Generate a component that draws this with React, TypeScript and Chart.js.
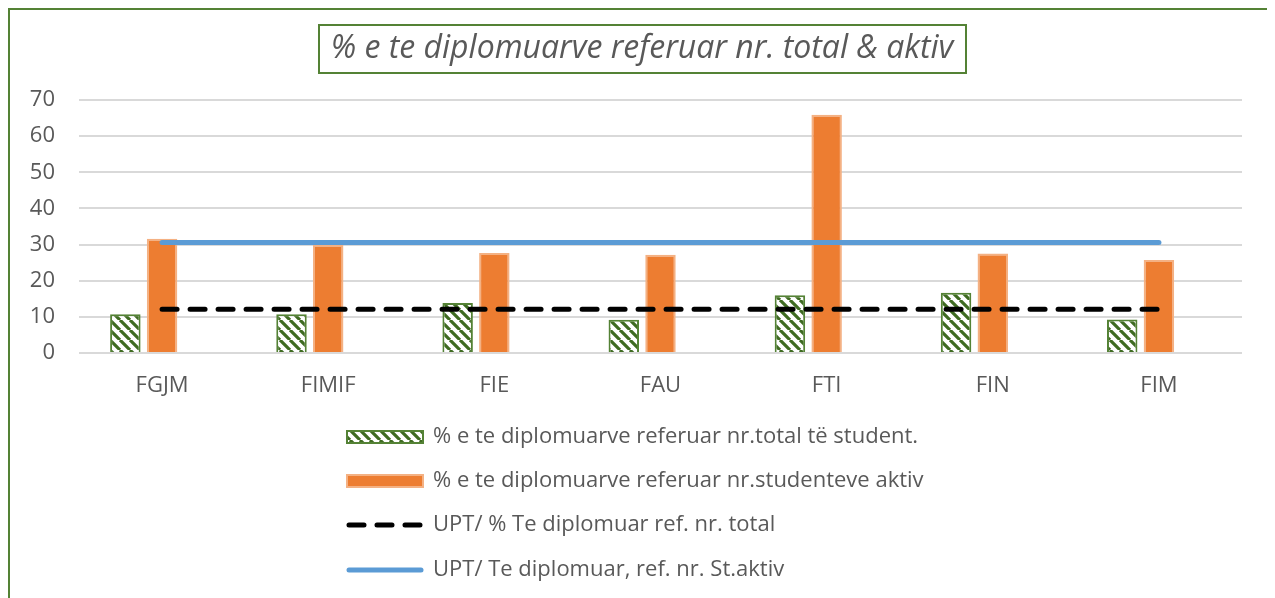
import React, { useEffect, useRef } from 'react';
import { Chart, registerables } from 'chart.js';

Chart.register(...registerables);

// ---- data ----
const CATEGORIES = ['FGJM', 'FIMIF', 'FIE', 'FAU', 'FTI', 'FIN', 'FIM'];
const PCT_TOTAL = [10.7, 10.7, 13.8, 9.2, 16.0, 16.7, 9.3];
const PCT_ACTIVE = [31.6, 29.9, 27.7, 27.2, 65.9, 27.5, 25.7];
const UPT_TOTAL = [12.1, 12.1, 12.1, 12.1, 12.1, 12.1, 12.1];
const UPT_ACTIVE = [30.6, 30.6, 30.6, 30.6, 30.6, 30.6, 30.6];
const Y_MIN = 0;
const Y_MAX = 70;
const Y_STEP = 10;

const TITLE = '% e te diplomuarve referuar nr. total & aktiv';
const LEGEND_LABELS = [
  '% e te diplomuarve referuar nr.total të student.',
  '% e te diplomuarve referuar nr.studenteve aktiv',
  'UPT/ % Te diplomuar ref. nr. total',
  'UPT/ Te diplomuar, ref. nr. St.aktiv',
];

// ---- styles ----
const GREEN = '#548235';
const HATCH = '#3F6B22';
const ORANGE = '#ED7D31';
const ORANGE_EDGE = '#F4B183';
const BLUE = '#5B9BD5';
const TEXT = '#595959';
const GRID = '#D9D9D9';
const FONT = '"Open Sans"';
const DASH = [15, 13];

const W = 1262;
const H = 590;

function makeHatch(): CanvasPattern | string {
  const size = 10;
  const c = document.createElement('canvas');
  c.width = size;
  c.height = size;
  const g = c.getContext('2d');
  if (!g) return '#fff';
  g.fillStyle = '#ffffff';
  g.fillRect(0, 0, size, size);
  g.strokeStyle = HATCH;
  g.lineWidth = 3.2;
  g.beginPath();
  for (const o of [-size, 0, size]) {
    g.moveTo(o, 0);
    g.lineTo(o + size, size);
  }
  g.stroke();
  return g.createPattern(c, 'repeat') || '#fff';
}

export default function App() {
  const ref = useRef<HTMLCanvasElement | null>(null);

  useEffect(() => {
    document.documentElement.style.overflow = 'hidden';
    document.body.style.overflow = 'hidden';
    const canvas = ref.current;
    if (!canvas) return;
    const hatch = makeHatch();

    const decor = {
      id: 'decor',
      afterDraw(chart: any) {
        const ctx: CanvasRenderingContext2D = chart.ctx;
        ctx.save();
        // title box
        ctx.font = `italic 32px ${FONT}`;
        const tw = ctx.measureText(TITLE).width;
        const tcx = 632;
        const tcy = 39;
        const bw = tw + 24;
        const bh = 48;
        ctx.strokeStyle = GREEN;
        ctx.lineWidth = 2;
        ctx.strokeRect(Math.round(tcx - bw / 2), tcy - bh / 2, Math.round(bw), bh);
        ctx.fillStyle = TEXT;
        ctx.textAlign = 'center';
        ctx.textBaseline = 'middle';
        ctx.fillText(TITLE, tcx, tcy);

        // legend
        const lx = 336;
        const sw = 78;
        const rows = [427, 471, 515, 560];
        ctx.font = `22px ${FONT}`;
        ctx.textAlign = 'left';
        ctx.textBaseline = 'middle';
        LEGEND_LABELS.forEach((label, i) => {
          const y = rows[i];
          if (i === 0) {
            ctx.fillStyle = hatch as any;
            ctx.fillRect(lx, y - 7, sw, 14);
            ctx.strokeStyle = GREEN;
            ctx.lineWidth = 2;
            ctx.strokeRect(lx + 1, y - 6, sw - 2, 12);
          } else if (i === 1) {
            ctx.fillStyle = ORANGE;
            ctx.fillRect(lx, y - 7, sw, 14);
            ctx.strokeStyle = ORANGE_EDGE;
            ctx.lineWidth = 2;
            ctx.strokeRect(lx + 1, y - 6, sw - 2, 12);
          } else {
            ctx.beginPath();
            ctx.lineWidth = 5;
            ctx.lineCap = 'round';
            ctx.strokeStyle = i === 2 ? '#000000' : BLUE;
            ctx.setLineDash(i === 2 ? DASH : []);
            ctx.moveTo(lx + 3, y);
            ctx.lineTo(lx + sw - 3, y);
            ctx.stroke();
            ctx.setLineDash([]);
          }
          ctx.fillStyle = TEXT;
          ctx.fillText(label, lx + sw + 9, y);
        });
        ctx.restore();
      },
    };

    const chart = new Chart(canvas, {
      type: 'bar',
      data: {
        labels: CATEGORIES,
        datasets: [
          {
            type: 'line',
            label: LEGEND_LABELS[2],
            data: UPT_TOTAL,
            borderColor: '#000000',
            borderWidth: 5,
            borderDash: DASH,
            borderCapStyle: 'round',
            pointRadius: 0,
            fill: false,
            order: 0,
          },
          {
            type: 'line',
            label: LEGEND_LABELS[3],
            data: UPT_ACTIVE,
            borderColor: BLUE,
            borderWidth: 5,
            borderCapStyle: 'round',
            pointRadius: 0,
            fill: false,
            order: 0,
          },
          {
            type: 'bar',
            label: LEGEND_LABELS[0],
            data: PCT_TOTAL,
            backgroundColor: hatch as any,
            borderColor: GREEN,
            borderWidth: 2,
            order: 1,
          },
          {
            type: 'bar',
            label: LEGEND_LABELS[1],
            data: PCT_ACTIVE,
            backgroundColor: ORANGE,
            borderColor: ORANGE_EDGE,
            borderWidth: 2,
            order: 1,
          },
          {
            type: 'bar',
            label: '',
            data: CATEGORIES.map(() => null),
            order: 1,
          },
        ],
      } as any,
      options: {
        responsive: false,
        animation: false,
        datasets: {
          bar: { categoryPercentage: 0.663, barPercentage: 0.83 },
        },
        layout: { padding: { left: 9, right: 30, top: 90, bottom: 187 } },
        plugins: {
          legend: { display: false },
          title: { display: false },
          tooltip: { enabled: false },
        },
        scales: {
          x: {
            type: 'category',
            offset: true,
            grid: { display: false },
            border: { display: false },
            ticks: {
              color: TEXT,
              font: { family: FONT, size: 22 },
              padding: 12,
              maxRotation: 0,
            },
            afterFit: (s: any) => {
              s.height = 60;
            },
          },
          y: {
            min: Y_MIN,
            max: Y_MAX,
            ticks: {
              stepSize: Y_STEP,
              color: TEXT,
              font: { family: FONT, size: 22 },
              padding: 24,
            },
            grid: { color: GRID, lineWidth: 2, drawTicks: false },
            border: { display: false },
            afterFit: (s: any) => {
              s.width = 60;
            },
          },
        },
      } as any,
      plugins: [decor],
    });

    return () => chart.destroy();
  }, []);

  return (
    <div
      style={{
        width: W,
        height: H,
        border: `2px solid ${GREEN}`,
        background: '#fff',
      }}
    >
      <canvas ref={ref} width={W} height={H} style={{ display: 'block' }} />
    </div>
  );
}
